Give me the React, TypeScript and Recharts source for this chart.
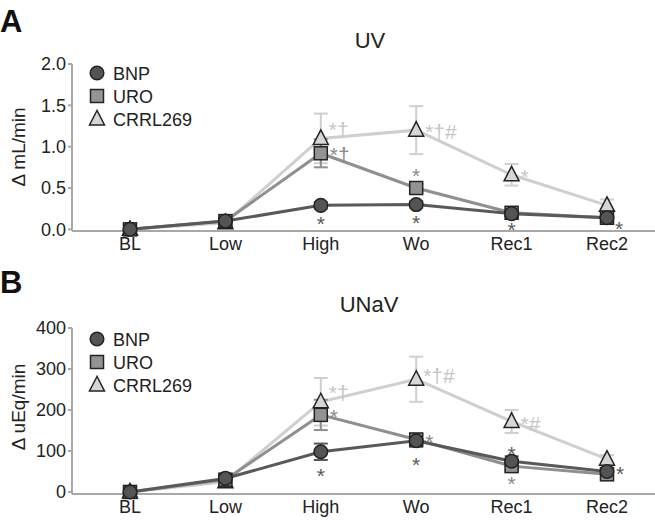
import React from 'react';
import { LineChart, Line, XAxis, YAxis, ErrorBar } from 'recharts';

const categories = ['BL', 'Low', 'High', 'Wo', 'Rec1', 'Rec2'];

// panel A: UV (delta mL/min)
const uvBnp = [0, 0.1, 0.29, 0.3, 0.19, 0.14];
const uvBnpErr = [0.02, 0.03, 0.04, 0.04, 0.03, 0.02];
const uvUro = [0, 0.1, 0.92, 0.5, 0.2, 0.14];
const uvUroErr = [0.02, 0.03, 0.17, 0.05, 0.03, 0.03];
const uvCrrl = [0, 0.08, 1.1, 1.2, 0.66, 0.29];
const uvCrrlErr = [0.02, 0.03, 0.3, 0.29, 0.13, 0.07];
const uvTicks = [0, 0.5, 1, 1.5, 2];

const uvBnpNotes = ['', '', '*', '*', '*', '*'];
const uvUroNotes = ['', '', '*†', '*', '', ''];
const uvCrrlNotes = ['', '', '*†', '*†#', '*', ''];

// panel B: UNaV (delta uEq/min)
const unBnp = [0, 33, 98, 125, 75, 50];
const unBnpErr = [5, 8, 20, 15, 12, 8];
const unUro = [0, 30, 188, 128, 63, 43];
const unUroErr = [5, 8, 37, 14, 10, 8];
const unCrrl = [0, 25, 220, 275, 172, 80];
const unCrrlErr = [5, 8, 58, 55, 28, 10];
const unTicks = [0, 100, 200, 300, 400];

const unBnpNotes = ['', '', '*', '*', '*', '*'];
const unUroNotes = ['', '', '*', '*', '*', ''];
const unCrrlNotes = ['', '', '*†', '*†#', '*#', ''];

// where each note sits relative to its marker
const uvBnpPos = ['', '', 'b', 'b', 'b1', 'dr'];
const uvUroPos = ['', '', 'r', 'a', '', ''];
const uvCrrlPos = ['', '', 'ur', 'r', 'r', ''];
const unBnpPos = ['', '', 'b2', 'b2', 'a2', 'r'];
const unUroPos = ['', '', 'r', 'r', 'b', ''];
const unCrrlPos = ['', '', 'ur', 'ur2', 'r', ''];

const PLACE: Record<string, { dx: number; dy: number; anchor: string }> = {
  b: { dx: 0, dy: 13, anchor: 'middle' },
  b1: { dx: 0, dy: 11, anchor: 'middle' },
  b2: { dx: 0, dy: 19, anchor: 'middle' },
  a: { dx: 0, dy: -17, anchor: 'middle' },
  a2: { dx: 0, dy: -12, anchor: 'middle' },
  r: { dx: 9, dy: -3, anchor: 'start' },
  ur: { dx: 8, dy: -14, anchor: 'start' },
  ur2: { dx: 7, dy: -8, anchor: 'start' },
  dr: { dx: 8, dy: 6, anchor: 'start' },
};

const FONT = '"Liberation Sans", Arial, Helvetica, sans-serif';
const AXIS = '#a8a8a8';
const NOTE_SIZE = 21;

const SERIES = [
  { key: 'bnp', name: 'BNP', shape: 'circle', fill: '#545454', line: '#595959', note: '#595959' },
  { key: 'uro', name: 'URO', shape: 'square', fill: '#939393', line: '#8f8f8f', note: '#8a8a8a' },
  { key: 'crrl', name: 'CRRL269', shape: 'triangle', fill: '#d6d6d6', line: '#cfcfcf', note: '#c6c6c6' },
];

function Marker({ shape, cx, cy, fill }: { shape: string; cx: number; cy: number; fill: string }) {
  const stroke = '#232323';
  if (shape === 'circle') return <circle cx={cx} cy={cy} r={6.8} fill={fill} stroke={stroke} strokeWidth={1.5} />;
  if (shape === 'square')
    return <rect x={cx - 6.5} y={cy - 6.5} width={13} height={13} fill={fill} stroke={stroke} strokeWidth={1.5} />;
  return (
    <polygon
      points={`${cx},${cy - 8.5} ${cx - 7.5},${cy + 6} ${cx + 7.5},${cy + 6}`}
      fill={fill}
      stroke={stroke}
      strokeWidth={1.5}
    />
  );
}

function makeDot(s: any, notes: string[], pos: string[]) {
  return (p: any) => {
    const { cx, cy, index } = p;
    const note = notes[index];
    const pl = PLACE[pos[index]];
    return (
      <g key={`${s.key}-${index}`}>
        <Marker shape={s.shape} cx={cx} cy={cy} fill={s.fill} />
        {note && pl ? (
          <text
            x={cx + pl.dx}
            y={cy + pl.dy + NOTE_SIZE * 0.58}
            textAnchor={pl.anchor as any}
            fontSize={NOTE_SIZE}
            fill={s.note}
            fontFamily={FONT}
          >
            {note}
          </text>
        ) : null}
      </g>
    );
  };
}

interface PanelProps {
  top: number;
  height: number;
  marginTop: number;
  axisHeight: number;
  domain: [number, number];
  ticks: number[];
  fmt: (v: number) => string;
  values: Record<string, number[]>;
  errors: Record<string, number[]>;
  notes: Record<string, string[]>;
  pos: Record<string, string[]>;
}

function Panel({ top, height, marginTop, axisHeight, domain, ticks, fmt, values, errors, notes, pos }: PanelProps) {
  const rows = categories.map((c, i) => {
    const r: any = { cat: c };
    SERIES.forEach((s) => {
      r[s.key] = values[s.key][i];
      r[s.key + 'Err'] = errors[s.key][i];
    });
    return r;
  });
  // draw light series first so BNP lies on top
  const order = [...SERIES].reverse();
  return (
    <div style={{ position: 'absolute', left: 0, top, width: 655, height }}>
      <LineChart width={655} height={height} data={rows} margin={{ top: marginTop, right: 0, bottom: 0, left: 0 }}>
        <XAxis
          dataKey="cat"
          height={axisHeight}
          padding={{ left: 58, right: 48 }}
          axisLine={{ stroke: AXIS, strokeWidth: 2 }}
          tickLine={false}
          tickSize={0}
          tickMargin={6}
          tick={{ fontSize: 18, fill: '#222' }}
        />
        <YAxis
          width={72}
          domain={domain}
          ticks={ticks}
          tickFormatter={fmt}
          axisLine={{ stroke: AXIS, strokeWidth: 2 }}
          tickLine={{ stroke: AXIS, strokeWidth: 2 }}
          tickSize={4}
          tickMargin={2}
          tick={{ fontSize: 18, fill: '#222' }}
        />
        {order.map((s) => (
          <Line
            key={s.key}
            dataKey={s.key}
            type="linear"
            stroke={s.line}
            strokeWidth={3}
            dot={makeDot(s, notes[s.key], pos[s.key])}
            activeDot={false}
            isAnimationActive={false}
          >
            <ErrorBar dataKey={s.key + 'Err'} direction="y" width={7} strokeWidth={2} stroke={s.line} />
          </Line>
        ))}
      </LineChart>
    </div>
  );
}

function Legend({ y0 }: { y0: number }) {
  return (
    <g>
      {SERIES.map((s, i) => {
        const cy = y0 + i * 23;
        return (
          <g key={s.key}>
            <Marker shape={s.shape} cx={97} cy={cy} fill={s.fill} />
            <text x={113} y={cy + 6.5} fontSize={18} fill="#222" fontFamily={FONT}>
              {s.name}
            </text>
          </g>
        );
      })}
    </g>
  );
}

export default function App() {
  return (
    <div style={{ position: 'absolute', left: 0, top: 0, width: 655, height: 525, background: '#fff', fontFamily: FONT }}>
      <Panel
        top={0}
        height={260}
        marginTop={64}
        axisHeight={29}
        domain={[0, 2]}
        ticks={uvTicks}
        fmt={(v) => v.toFixed(1)}
        values={{ bnp: uvBnp, uro: uvUro, crrl: uvCrrl }}
        errors={{ bnp: uvBnpErr, uro: uvUroErr, crrl: uvCrrlErr }}
        notes={{ bnp: uvBnpNotes, uro: uvUroNotes, crrl: uvCrrlNotes }}
        pos={{ bnp: uvBnpPos, uro: uvUroPos, crrl: uvCrrlPos }}
      />
      <Panel
        top={260}
        height={260}
        marginTop={68}
        axisHeight={26}
        domain={[0, 400]}
        ticks={unTicks}
        fmt={(v) => String(v)}
        values={{ bnp: unBnp, uro: unUro, crrl: unCrrl }}
        errors={{ bnp: unBnpErr, uro: unUroErr, crrl: unCrrlErr }}
        notes={{ bnp: unBnpNotes, uro: unUroNotes, crrl: unCrrlNotes }}
        pos={{ bnp: unBnpPos, uro: unUroPos, crrl: unCrrlPos }}
      />
      <svg
        width={655}
        height={525}
        style={{ position: 'absolute', left: 0, top: 0, pointerEvents: 'none' }}
        fontFamily={FONT}
      >
        <text x={0} y={32} fontSize={31} fontWeight="bold" fill="#111">A</text>
        <text x={0} y={293} fontSize={31} fontWeight="bold" fill="#111">B</text>
        <text x={370} y={48} fontSize={22} textAnchor="middle" fill="#222">UV</text>
        <text x={369} y={312} fontSize={22} textAnchor="middle" fill="#222">UNaV</text>
        <text transform="translate(25,147) rotate(-90)" fontSize={19} textAnchor="middle" fill="#222">Δ mL/min</text>
        <text transform="translate(25,407) rotate(-90)" fontSize={19} textAnchor="middle" fill="#222">Δ uEq/min</text>
        <Legend y0={73} />
        <Legend y0={339} />
      </svg>
    </div>
  );
}
